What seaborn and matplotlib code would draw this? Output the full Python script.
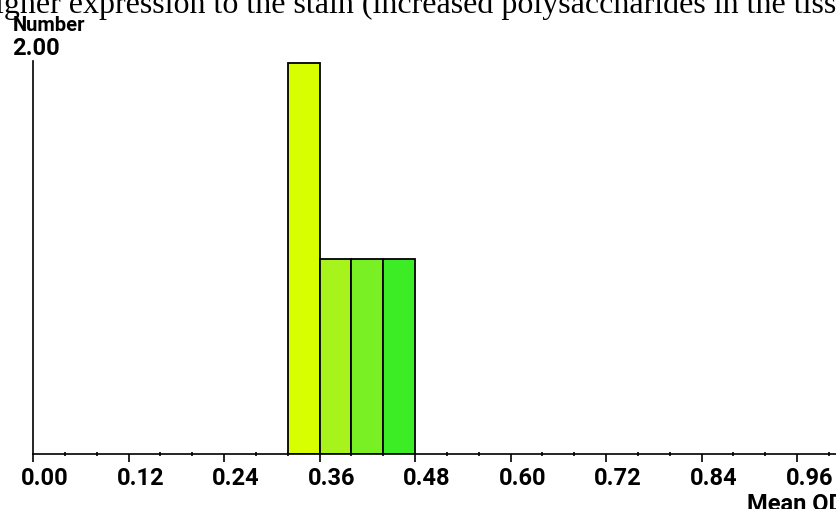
import matplotlib
matplotlib.use("Agg")
import matplotlib.pyplot as plt
import matplotlib.transforms as mtransforms
from matplotlib.ticker import MultipleLocator, FixedLocator
import seaborn as sns
import numpy as np

# ---- data ----
bin_edges = [0.32, 0.36, 0.40, 0.44, 0.48]
bin_centers = [0.34, 0.38, 0.42, 0.46]
counts = [2, 1, 1, 1]
bar_colors = ["#D8FF00", "#A6F41C", "#78F024", "#3CEC24"]
tick_values = [0.00, 0.12, 0.24, 0.36, 0.48, 0.60, 0.72, 0.84, 0.96]
tick_labels = ["0.00", "0.12", "0.24", "0.36", "0.48", "0.60", "0.72", "0.84", "0.96"]
y_label_top = "2.00"
caption = "higher expression to the stain (increased polysaccharides in the tissue)"

sns.set_theme(style="white")
plt.rcParams["font.family"] = ["Roboto", "DejaVu Sans"]

W, H = 837, 509
fig = plt.figure(figsize=(W / 100, H / 100), dpi=100)
ax = fig.add_axes([33 / W, 1 - 454 / H, 1 - 33 / W, (454 - 61) / H])

sns.histplot(x=bin_centers, weights=counts, bins=bin_edges, ax=ax,
             edgecolor="black", linewidth=1.3, alpha=1.0)
for patch, c in zip(ax.patches, bar_colors):
    patch.set_facecolor(c)

ax.set_xlim(0, (W - 33) / 796)
ax.set_ylim(0, 2.0 * (454 - 61) / (454 - 63))
ax.set_xlabel("")
ax.set_ylabel("")
ax.set_yticks([])
ax.set_facecolor("white")
for s in ["top", "right"]:
    ax.spines[s].set_visible(False)
for s in ["left", "bottom"]:
    ax.spines[s].set_color("black")
    ax.spines[s].set_linewidth(1.2)

ax.xaxis.set_major_locator(FixedLocator(tick_values))
ax.set_xticklabels(tick_labels)
ax.xaxis.set_minor_locator(MultipleLocator(0.04))
ax.tick_params(axis="x", which="major", direction="out", length=5.5, width=1.2,
               color="black", pad=4, labelsize=17, bottom=True)
ax.tick_params(axis="x", which="minor", direction="inout", length=3.5, width=1.2,
               color="black", bottom=True)
offset = mtransforms.ScaledTranslation(12 / 100, 0, fig.dpi_scale_trans)
for lab in ax.get_xticklabels():
    lab.set_transform(lab.get_transform() + offset)
    lab.set_fontweight("bold")
    lab.set_color("black")

fig.text(13 / W, 1 - 16 / H, "Number", ha="left", va="top", fontsize=14.5,
         fontweight="bold", color="black")
fig.text(12 / W, 1 - 37 / H, y_label_top, ha="left", va="top", fontsize=17,
         fontweight="bold", color="black")
fig.text(747 / W, 1 - 493 / H, "Mean OD", ha="left", va="top", fontsize=17,
         fontweight="bold", color="black")
fig.text(-21 / W, 1 - 13 / H, caption, ha="left", va="baseline", fontsize=23,
         family=["Liberation Serif", "DejaVu Serif"], color="black")

fig.savefig("out.png", dpi=100, facecolor="white")
